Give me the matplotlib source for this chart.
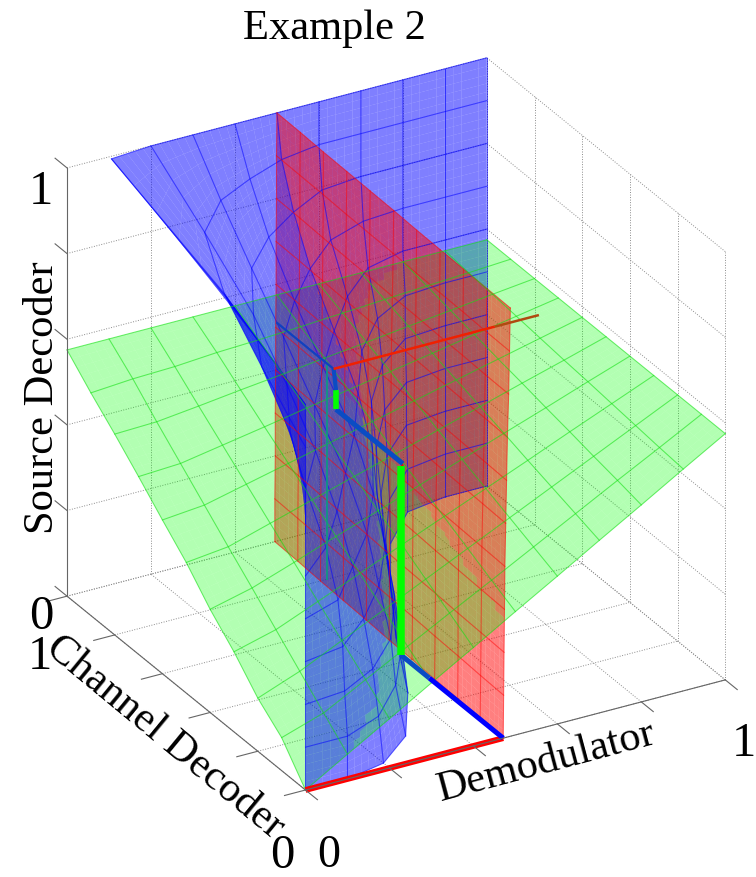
import numpy as np
import matplotlib
matplotlib.use('Agg')
import matplotlib.pyplot as plt
from mpl_toolkits.mplot3d import proj3d
from mpl_toolkits.mplot3d.art3d import Poly3DCollection

plt.rcParams['font.family'] = ['Liberation Serif', 'DejaVu Serif']

W, H = 756, 877

# mesh positions on all three surfaces
grid = [0, 0.1, 0.2, 0.3, 0.4, 0.5, 0.6, 0.7, 0.8, 0.9, 1]

# channel decoder surface: y(demodulator, source), one row per source value
blue_y = [
    [0, 0, .025, .108, .275, .5, .7, .875, .98, 1, 1],
    [0, 0, .046, .15, .3, .52, .72, .88, .98, 1, 1],
    [0, .012, .07, .17, .33, .55, .74, .89, .985, 1, 1],
    [0, .02, .108, .22, .37, .58, .76, .9, .985, 1, 1],
    [0, .04, .154, .27, .42, .6, .78, .91, .99, 1, 1],
    [0, .09, .22, .36, .5, .66, .82, .93, .99, 1, 1],
    [0, .175, .31, .49, .63, .76, .88, .97, 1, 1, 1],
    [0, .24, .43, .62, .75, .86, .95, .99, 1, 1, 1],
    [0, .36, .57, .754, .858, .93, .987, 1, 1, 1, 1],
    [0, .517, .775, .883, .937, .98, 1, 1, 1, 1, 1],
    [.33, .99, 1, 1, 1, 1, 1, 1, 1, 1, 1],
]

# demodulator surface: x(channel, source), one row per source value
red_x = [
    [.471, .473, .476, .478, .481, .483, .486, .488, .490, .493, .495],
    [.472, .474, .477, .479, .482, .484, .486, .488, .491, .493, .495],
    [.473, .475, .477, .480, .482, .484, .487, .489, .491, .494, .496],
    [.474, .476, .478, .480, .483, .485, .487, .489, .492, .494, .496],
    [.475, .477, .479, .481, .483, .485, .488, .490, .492, .494, .497],
    [.477, .479, .481, .483, .485, .487, .489, .491, .493, .495, .497],
    [.479, .481, .483, .485, .486, .488, .490, .492, .494, .496, .498],
    [.481, .483, .484, .486, .488, .489, .491, .493, .495, .497, .498],
    [.484, .485, .487, .488, .490, .491, .493, .494, .496, .498, .499],
    [.486, .487, .489, .490, .491, .493, .494, .495, .497, .498, .499],
    [.488, .489, .490, .491, .492, .494, .495, .496, .497, .499, .500],
]

# source decoder surface: z(demodulator, channel), one row per channel value
green_z = [
    [0, .058, .115, .173, .23, .288, .345, .403, .46, .518, .575],
    [.077, .109, .161, .213, .265, .316, .368, .42, .472, .523, .575],
    [.124, .161, .207, .253, .299, .345, .391, .437, .483, .529, .575],
    [.187, .213, .253, .293, .334, .374, .414, .454, .495, .535, .575],
    [.241, .265, .299, .334, .368, .403, .437, .472, .506, .541, .575],
    [.305, .316, .345, .374, .403, .431, .46, .489, .518, .546, .575],
    [.359, .368, .391, .414, .437, .46, .483, .506, .529, .552, .575],
    [.415, .42, .437, .454, .472, .489, .506, .523, .541, .558, .575],
    [.469, .472, .483, .495, .506, .518, .529, .541, .552, .564, .575],
    [.52, .527, .53, .537, .541, .546, .552, .558, .564, .569, .575],
    [.575, .575, .575, .575, .575, .575, .575, .575, .575, .575, .575],
]

# decoding trajectory: (x, y, z) ends of every segment
red_thick = [(0, 0, 0), (.471, 0, 0)]
blue_low = [(.471, 0, 0), (.471, .31, 0)]
blue_mid = [(.471, .31, 0), (.471, .43, 0)]
green_1 = [(.471, .43, 0), (.471, .43, .44)]
red_1 = [(.471, .43, .445), (.476, .43, .445)]
blue_2 = [(.476, .43, .445), (.476, .71, .445)]
green_2 = [(.476, .71, .445), (.476, .71, .49)]
blue_3 = [(.476, .71, .49), (.476, .72, .535)]
blue_thin = [(.476, .72, .535), (.476, .96, .535)]
red_thin_in = [(.476, .72, .535), (.86, .72, .535)]
red_thin_out = [(.86, .72, .535), (.965, .72, .535)]
teal_drop = [(.475, .745, .535), (.475, .745, .03)]

axis_ticks = [0, 0.2, 0.4, 0.6, 0.8, 1]


def tessellate(X, Y, Z, n=5):
    # split each mesh cell so the depth sort can handle the crossings
    X, Y, Z = np.array(X, float), np.array(Y, float), np.array(Z, float)
    quads = []
    t = np.linspace(0, 1, n + 1)
    for i in range(X.shape[0] - 1):
        for j in range(X.shape[1] - 1):
            c = [np.array([A[i, j], A[i, j + 1], A[i + 1, j], A[i + 1, j + 1]]) for A in (X, Y, Z)]
            def at(u, v):
                w = np.array([(1 - u) * (1 - v), u * (1 - v), (1 - u) * v, u * v])
                return [float((w * k).sum()) for k in c]
            for a in range(n):
                for b in range(n):
                    quads.append([at(t[a], t[b]), at(t[a + 1], t[b]),
                                  at(t[a + 1], t[b + 1]), at(t[a], t[b + 1])])
    return quads


g = np.array(grid)
bx, bz = np.meshgrid(g, g)
by = np.array(blue_y)
ry, rz = np.meshgrid(g, g)
rx = np.array(red_x)
gx, gy = np.meshgrid(g, g)
gz = np.array(green_z)

fig = plt.figure(figsize=(W / 100, H / 100), dpi=100)
ax = fig.add_axes([-0.08, 0, H / W, 1], projection='3d', computed_zorder=False)
ax.set_proj_type('ortho')
ax.view_init(elev=27.5, azim=-119.6)
ax.set_xlim(0, 1, view_margin=0)
ax.set_ylim(0, 1, view_margin=0)
ax.set_zlim(0, 1, view_margin=0)
ax.set_box_aspect((1, 1, 1))
ax.set_axis_off()

# dotted grid on the three back walls
grid_style = dict(color='#8c8c8c', lw=0.7, ls=(0, (1, 1.6)), zorder=1)
for t in axis_ticks:
    ax.plot([t, t], [1, 1], [0, 1], **grid_style)
    ax.plot([0, 1], [1, 1], [t, t], **grid_style)
    ax.plot([1, 1], [t, t], [0, 1], **grid_style)
    ax.plot([1, 1], [0, 1], [t, t], **grid_style)
    ax.plot([t, t], [0, 1], [0, 0], **grid_style)
    ax.plot([0, 1], [t, t], [0, 0], **grid_style)

# the three transparent surfaces in one collection, so they sort together
faces = []
colors = []
for X, Y, Z, col in [(bx, by, bz, (0, 0, 1, 0.5)),
                     (rx, ry, rz, (1, 0, 0, 0.5)),
                     (gx, gy, gz, (0, 1, 0, 0.3))]:
    q = tessellate(X, Y, Z)
    faces += q
    colors += [col] * len(q)
poly = Poly3DCollection(faces, facecolors=colors, edgecolors='none', linewidths=0,
                        antialiaseds=True, zorder=2)
ax.add_collection3d(poly)

# mesh lines
for X, Y, Z, col, a in [(bx, by, bz, '#0000ff', 0.6),
                        (rx, ry, rz, '#ff0000', 0.55),
                        (gx, gy, gz, '#10e010', 0.6)]:
    for i in range(len(grid)):
        ax.plot(X[i, :], Y[i, :], Z[i, :], color=col, alpha=a, lw=0.75, zorder=3)
        ax.plot(X[:, i], Y[:, i], Z[:, i], color=col, alpha=a, lw=0.75, zorder=3)


def seg(points, color, lw):
    p = np.array(points)
    ax.plot(p[:, 0], p[:, 1], p[:, 2], color=color, lw=lw, zorder=4, solid_capstyle='butt')


seg(teal_drop, '#0c9a80', 1.2)
seg(red_thick, '#ff0000', 4.2)
seg(blue_low, '#0000ff', 3.6)
seg(blue_mid, '#0a4cc4', 3.6)
seg(green_1, '#00ff00', 5.4)
seg(red_1, '#ff0000', 3)
seg(blue_2, '#0a4cc4', 3.6)
seg(green_2, '#00ff00', 4)
seg(blue_3, '#0a4cc4', 3)
seg(blue_thin, '#1040c0', 1.6)
seg(red_thin_in, '#f02000', 1.8)
seg(red_thin_out, '#b04a10', 1.8)

# box edges and tick stubs
axis_col = '#666666'
edge = dict(color=axis_col, lw=0.8, zorder=5)
ax.plot([0, 1], [0, 0], [0, 0], **edge)
ax.plot([0, 0], [0, 1], [0, 0], **edge)
ax.plot([0, 0], [1, 1], [0, 1], **edge)
for t in axis_ticks:
    ax.plot([t, t], [0, -0.05], [0, 0], **edge)
    ax.plot([0, -0.05], [t, t], [0, 0], **edge)
    ax.plot([0, 0], [1, 1.05], [t, t], **edge)

# fit the unit cube onto the pixels of the reference
fig.canvas.draw()


def to_px(p):
    a, b, _ = proj3d.proj_transform(p[0], p[1], p[2], ax.get_proj())
    return ax.transData.transform((a, b))


span = np.linalg.norm(to_px((1, 0, 0)) - to_px((0, 0, 0)))
ax.set_box_aspect((1, 1, 1), zoom=434.0 / span)
fig.canvas.draw()
off = np.array([305.5, H - 790.0]) - to_px((0, 0, 0))
pos = ax.get_position()
ax.set_position([pos.x0 + off[0] / W, pos.y0 + off[1] / H, pos.width, pos.height])


def label(x, y, s, size=30.6, rot=0):
    fig.text(x / W, 1 - y / H, s, fontsize=size, rotation=rot, ha='center', va='center',
             rotation_mode='anchor', color='black')


label(334, 29, 'Example 2')
label(43, 398, 'Source Decoder', rot=90)
label(165, 737, 'Channel Decoder', rot=-39.5)
label(546, 762, 'Demodulator', rot=15)
label(41, 192, '1', size=35)
label(41, 617, '0', size=35)
label(40, 657, '1', size=35)
label(282, 856, '0', size=35)
label(329, 856, '0', size=33)
label(744, 744, '1', size=35)

fig.savefig('out.png', dpi=100)
